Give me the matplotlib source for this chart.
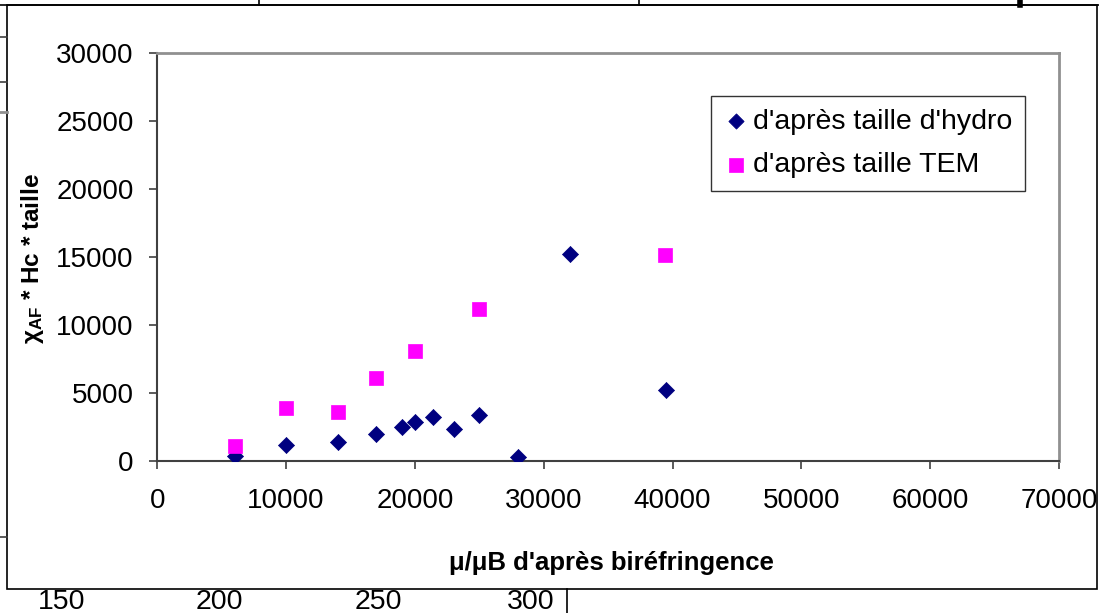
import matplotlib
matplotlib.use("Agg")
from matplotlib import pyplot as plt
from matplotlib.lines import Line2D
from matplotlib.patches import Rectangle

plt.rcParams['font.family'] = ['Liberation Sans', 'DejaVu Sans']
plt.rcParams['mathtext.fontset'] = 'custom'
plt.rcParams['mathtext.rm'] = 'Liberation Sans'
plt.rcParams['mathtext.bf'] = 'Liberation Sans:bold'
#
# data
# -------------------------
#
hydro_x = [6000, 10000, 14000, 17000, 19000, 20000, 21400, 23000, 25000,
           28000, 32000, 39500]
hydro_y = [350, 1150, 1350, 2000, 2500, 2850, 3200, 2300, 3350,
           300, 15250, 5200]
tem_x = [6000, 10000, 14000, 17000, 20000, 25000, 39400]
tem_y = [1050, 3900, 3550, 6100, 8100, 11150, 15150]

xticks = [0, 10000, 20000, 30000, 40000, 50000, 60000, 70000]
yticks = [0, 5000, 10000, 15000, 20000, 25000, 30000]

# leftovers of another chart peeking round the frame
bg_labels = ['150', '200', '250', '300']
bg_label_x = [62, 219, 378, 531]

W, H = 1099, 613
fig = plt.figure(figsize=(W / 100, H / 100), dpi=100)

def fx(px):
    return px / W

def fy(py):
    return 1 - py / H
#
# outer chart frame and the bits of the background chart
# ------------------------------------------------------
#
fig.add_artist(Rectangle((fx(7), fy(589)), fx(1097) - fx(7), fy(5) - fy(589),
                         transform=fig.transFigure, fill=False,
                         edgecolor='black', lw=1.2))
fig.add_artist(Line2D([0, 1], [fy(5), fy(5)], transform=fig.transFigure,
                      color='black', lw=1.2))
for tx in [259, 639]:
    fig.add_artist(Line2D([fx(tx), fx(tx)], [fy(0), fy(5)],
                          transform=fig.transFigure, color='black', lw=1.2))
fig.add_artist(Line2D([fx(1020), fx(1020)], [fy(0), fy(5)],
                      transform=fig.transFigure, color='black', lw=4))
for ty in [37, 82, 537]:
    fig.add_artist(Line2D([0, fx(7)], [fy(ty), fy(ty)],
                          transform=fig.transFigure, color='#404040', lw=1.2))
fig.add_artist(Line2D([0, fx(7)], [fy(112), fy(112)],
                      transform=fig.transFigure, color='#909090', lw=2))
fig.add_artist(Line2D([fx(567), fx(567)], [fy(589), 0],
                      transform=fig.transFigure, color='black', lw=1.2))
for lab, lx in zip(bg_labels, bg_label_x):
    fig.text(fx(lx), fy(589), lab, ha='center', va='top', fontsize=20.5)
#
# the plot area
# -------------
#
ax = fig.add_axes([fx(157.3), fy(460.7), fx(1059) - fx(157.3),
                   fy(53.3) - fy(460.7)])
ax.scatter(hydro_x, hydro_y, marker='D', s=8.2**2, color='#000080',
           edgecolors='#000080', linewidths=0.5, zorder=3,
           label="d'après taille d'hydro")
ax.scatter(tem_x, tem_y, marker='s', s=10**2, color='#FF00FF',
           edgecolors='#FF00FF', linewidths=0.5, zorder=3,
           label="d'après taille TEM")

ax.set_xlim(0, 70000)
ax.set_ylim(0, 30000)
ax.set_xticks(xticks)
ax.set_yticks(yticks)
ax.set_xticklabels([str(v) for v in xticks])
ax.set_yticklabels([str(v) for v in yticks])
ax.tick_params(axis='both', labelsize=20, direction='out', length=6,
               width=1.2, color='#404040')
ax.tick_params(axis='x', pad=14)
ax.tick_params(axis='y', pad=11)

for side in ['top', 'right']:
    ax.spines[side].set_color('#909090')
    ax.spines[side].set_linewidth(2)
for side in ['left', 'bottom']:
    ax.spines[side].set_color('#404040')
    ax.spines[side].set_linewidth(1.5)

ax.set_xlabel("μ/μB d'après biréfringence", fontsize=18.5,
              fontweight='bold')
ax.xaxis.set_label_coords((611 - 157.3) / 901.7, (460.7 - 563) / 407.4)
ax.xaxis.label.set_va('center')
ax.set_ylabel(r"$\mathbf{χ_{AF}}$ * Hc * taille", fontsize=17.5,
              fontweight='bold')
ax.yaxis.set_label_coords((33 - 157.3) / 901.7, (460.7 - 259) / 407.4)
ax.yaxis.label.set_va('center')

leg = ax.legend(loc='upper left',
                bbox_to_anchor=((710.6 - 157.3) / 901.7,
                                (460.7 - 96) / 407.4),
                fontsize=20.5, frameon=True, fancybox=False,
                edgecolor='black', borderpad=0.45, handletextpad=0.15,
                handlelength=0.9, labelspacing=0.62, borderaxespad=0,
                markerscale=0.95)
leg.get_frame().set_linewidth(1.0)

fig.savefig('out.png', dpi=100)
